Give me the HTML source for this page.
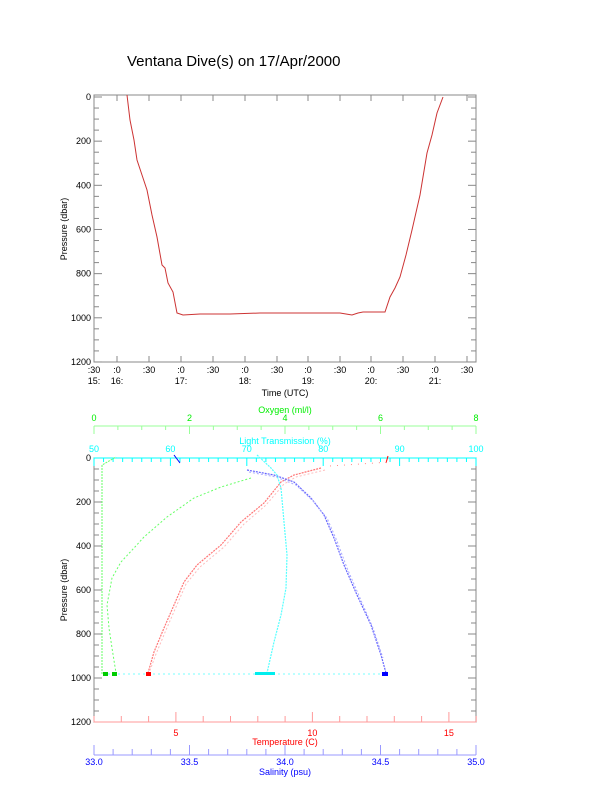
<!DOCTYPE html>
<html><head><meta charset="utf-8"><style>
body{margin:0;background:#fff}
svg{display:block;font-family:"Liberation Sans",sans-serif}
</style></head><body>
<svg id="s" width="612" height="785" xmlns="http://www.w3.org/2000/svg">
<rect width="612" height="785" fill="#fff"/>
<text x="127" y="66" font-size="15" fill="#000">Ventana Dive(s) on 17/Apr/2000</text>
<g id="g"></g>
</svg>
<script>
(function(){
const g=document.getElementById('g');let h='';
function L(x1,y1,x2,y2,c,w){h+=`<line x1="${x1}" y1="${y1}" x2="${x2}" y2="${y2}" stroke="${c}" stroke-width="${w||1}"/>`;}
function T(x,y,t,c,s,a){h+=`<text x="${x}" y="${y}" font-size="${s||9}" fill="${c}" text-anchor="${a||'middle'}">${t}</text>`;}
function P(pts,c,w,d){h+=`<polyline points="${pts}" fill="none" stroke="${c}" stroke-width="${w||1}" ${d?'stroke-dasharray="'+d+'"':''}/>`;}
const gr='#888';
h+=`<rect x="94" y="95" width="382" height="267" fill="none" stroke="${gr}"/>`;
for(let p=0;p<=1200;p+=50){let y=97+p*0.2208;let l=p%200==0?8:5;L(94,y,94+l,y,gr);L(476,y,476-l,y,gr);if(p%200==0)T(91,y+3,p,'#000',9,'end');}
const tx=[[94,':30','15:'],[117,':0','16:'],[149,':30',''],[181,':0','17:'],[213,':30',''],[245,':0','18:'],[277,':30',''],[308,':0','19:'],[340,':30',''],[371,':0','20:'],[403,':30',''],[435,':0','21:'],[467,':30','']];
for(const [x,a,b] of tx){L(x,95,x,101,gr);L(x,362,x,356,gr);T(x,373,a,'#000');if(b)T(x,384,b,'#000');}
T(285,396,'Time (UTC)','#000');
h+=`<text x="67" y="229" font-size="9" transform="rotate(-90 67 229)" text-anchor="middle">Pressure (dbar)</text>`;
const topLine="127,95 130,120 134,140 137,160 142,175 147,190 152,215 157,237 162,265 165,268 168,283 173,292 177,313 183,315 200,314 230,314 260,313 300,313 340,313 346,314 352,315 358,313 363,312 385,312 390,297 395,288 400,277 406,255 412,230 420,195 427,153 432,135 437,113 443,97";
P(topLine,'#c33',1);
h+=`<rect x="94" y="458" width="382" height="264" fill="none" stroke="${gr}"/>`;
for(let p=0;p<=1200;p+=50){let y=458+p*0.22;let l=p%200==0?8:5;L(94,y,94+l,y,gr);L(476,y,476-l,y,gr);if(p%200==0)T(91,y+3,p,'#000',9,'end');}
h+=`<text x="67" y="590" font-size="9" transform="rotate(-90 67 590)" text-anchor="middle">Pressure (dbar)</text>`;
const cy='#0ff';L(94,458,476,458,cy);
for(let v=50;v<=100;v+=1.25){let x=94+(v-50)*7.64;let l=(v%10==0)?8:4;L(x,458,x,458+l,cy);}
for(let v=50;v<=100;v+=10)T(94+(v-50)*7.64,452,v,cy);
T(285,444,'Light Transmission (%)',cy);
const gn='#0e0';L(94,426,476,426,'#9f9');
for(let v=0;v<=8;v+=0.5){let x=94+v*47.75;L(x,426,x,v%2==0?434:430,'#9f9');}
for(let v=0;v<=8;v+=2)T(94+v*47.75,421,v,gn);
T(285,413,'Oxygen (ml/l)',gn);
const rd='#f00';L(94,722,476,722,'#f99');
for(let v=2;v<=16;v+=1){let x=94+(v-2)*27.3;L(x,722,x,v%5==0?712:716,'#f99');}
for(let v=5;v<=15;v+=5)T(94+(v-2)*27.3,736,v,rd);
T(285,745,'Temperature (C)',rd);
const bl='#00f';L(94,755,476,755,'#99f');
for(let v=0;v<=20;v++){let x=94+v*19.1;L(x,755,x,v%5==0?745:749,'#99f');}
['33.0','33.5','34.0','34.5','35.0'].forEach((t,i)=>T(94+i*95.5,765,t,bl));
T(285,775,'Salinity (psu)',bl);
P("102,674 102,465 116,457",'#6f6',1,'2 1');
P("251,478 221,487 194,498 167,517 144,537 134,548 121,562 112,578 107,605 109,628 112,648 116,673",'#6f6',1,'2 2');
P("321,468 294,475 281,482 264,503 241,522 221,545 197,565 184,582 174,605 164,628 154,652 148,673",'#f77',1.2,'2 1');
P("325,470 296,477 284,484 266,505 244,524 224,547 200,567 186,584 176,607 166,630 156,654 149,673",'#fbb',1,'2 2');
P("247,470 274,475 294,482 311,498 324,515 334,538 344,565 357,595 371,625 381,655 386,673",'#66f',1.2,'2 1');
P("249,472 276,477 296,485 313,501 327,518 337,541 347,568 360,598 373,628 383,658",'#aaf',1,'2 2');
P("257,455 271,468 277,475 281,488 284,522 287,555 286,588 281,615 274,642 267,673",'#5ff',1.2,'2 1');
P("174,455 180,463",'#00f',1);P("388,456 386,463",'#f00',1);
P("103,674 385,674",'#7ff',1,'2 3');
P("330,466 390,462",'#f88',1,'1 6');
h+=`<rect x="103" y="672" width="5" height="4" fill="#0c0"/><rect x="112" y="672" width="5" height="4" fill="#0c0"/><rect x="146" y="672" width="5" height="4" fill="#f00"/><rect x="255" y="672" width="20" height="3" fill="#0ee"/><rect x="382" y="672" width="6" height="4" fill="#00f"/>`;
g.innerHTML=h;
})();
</script>
</body></html>
